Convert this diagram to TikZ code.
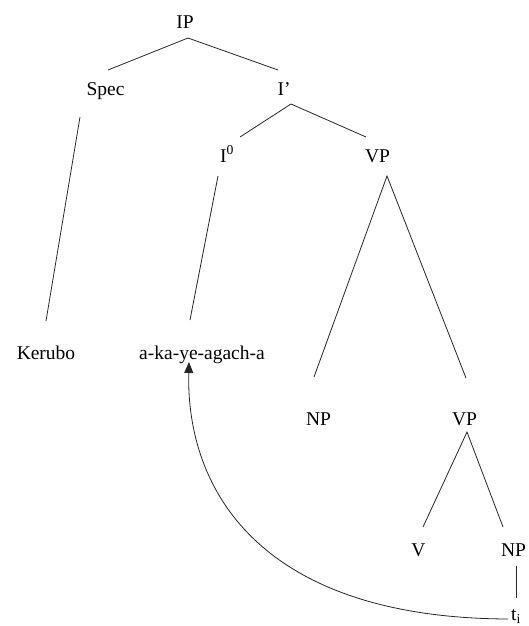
\documentclass[tikz,border=0pt]{standalone}
\usepackage{fontspec}
\setmainfont{Liberation Serif}
\usetikzlibrary{calc,arrows.meta}
\begin{document}
\begin{tikzpicture}[x=1pt,y=-1pt,
  lbl/.style={inner sep=0pt,anchor=base,font=\fontsize{19.5}{22}\selectfont},
  br/.style={line width=0.8pt,draw=black!85}]
\useasboundingbox (0,0) rectangle (528,626);
\node[lbl] (ip) at (185,29) {IP};
\node[lbl] (spec) at (105.5,95) {Spec};
\node[lbl] (ib) at (284,95) {I’};
\node[lbl] (i0) at (227,162) {I\textsuperscript{0}};
\node[lbl] (vp1) at (377.5,162) {VP};
\node[lbl] (ker) at (46,359) {Kerubo};
\node[lbl] (verb) at (202,359) {a-ka-ye-agach-a};
\node[lbl] (np1) at (318.5,425) {NP};
\node[lbl] (vp2) at (464.5,425) {VP};
\node[lbl] (v) at (418.5,556) {V};
\node[lbl] (np2) at (513.5,556) {NP};
\node[lbl] (t) at (516,620) {t$_{\mathrm{i}}$};
\draw[br] ($(spec.base)+(2.5,-25)$) -- ($(ip.base)+(3,9)$) -- ($(ib.base)+(-6,-25)$);
\draw[br] ($(spec.base)+(-25.5,22)$) -- ($(ker.base)+(0,-38)$);
\draw[br] ($(i0.base)+(13,-25)$) -- ($(ib.base)+(7,9)$) -- ($(vp1.base)+(-11.5,-25)$);
\draw[br] ($(i0.base)+(-9,14)$) -- ($(verb.base)+(-12,-39)$);
\draw[br] ($(np1.base)+(-4.5,-48)$) -- ($(vp1.base)+(9.5,14)$) -- ($(vp2.base)+(1.5,-47)$);
\draw[br] ($(v.base)+(4.5,-29)$) -- ($(vp2.base)+(2.5,7)$) -- ($(np2.base)+(-10.5,-29)$);
\draw[br] ($(np2.base)+(2.5,10)$) -- ($(t.base)+(0,-22)$);
\draw[br,-{Triangle[length=11pt,width=9pt]}] ($(t.base)+(-8,-1)$) .. controls (260,618) and (186,490) .. ($(verb.base)+(-13,3)$);
\end{tikzpicture}
\end{document}
